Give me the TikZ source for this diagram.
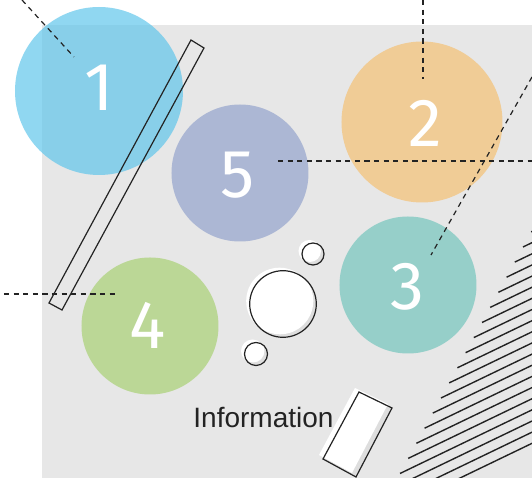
\documentclass[tikz,border=0pt]{standalone}
\usepackage{fontspec}
\usepackage{tikz}
\usetikzlibrary{calc}
\setmainfont{Liberation Sans}
\newfontfamily\digitfont{Fira Sans}
\definecolor{bggray}{RGB}{231,231,231}
\definecolor{shadegray}{RGB}{222,222,222}
\definecolor{ballblue}{RGB}{97,198,235}
\definecolor{ballorange}{RGB}{240,204,150}
\definecolor{ballslate}{RGB}{172,183,212}
\definecolor{ballteal}{RGB}{150,207,201}
\definecolor{ballgreen}{RGB}{187,215,150}
\definecolor{inkgray}{RGB}{35,35,35}
\tikzset{
  guide/.style={draw=inkgray, line width=0.6pt, dash pattern=on 2.6pt off 2.2pt},
  frame/.style={draw=inkgray, line width=0.6pt},
  hatch/.style={draw=inkgray, line width=0.7pt},
  num/.style={text=white, font=\digitfont\fontsize{34}{34}\selectfont, inner sep=0pt}
}

\begin{document}
\begin{tikzpicture}[x=0.5pt,y=-0.5pt]
\useasboundingbox (0,0) rectangle (532,480);
\fill[bggray] (42,25) rectangle (532,478);

\coordinate (O1) at (99,91);
\coordinate (O2) at (422,122);
\coordinate (O5) at (240,173);
\coordinate (O3) at (408,285);
\coordinate (O4) at (150,326);

\fill[ballorange] (O2) circle (80.5);
\fill[ballslate] (O5) circle (68.5);
\fill[ballteal] (O3) circle (68.5);
\fill[ballgreen] (O4) circle (68.5);
\fill[ballblue, fill opacity=0.7] (O1) circle (84);

\node[num] (n1) at (99,88) {1};
\node[num] (n2) at (425,123) {2};
\node[num] (n5) at (238,175) {5};
\node[num] (n3) at (407,287) {3};
\node[num] (n4) at (148,325) {4};

\coordinate (P) at (313,254);
\coordinate (Q) at (283,304);
\coordinate (S) at (256,354);
\foreach \pos/\rad in {P/11,Q/33.3,S/11.5}{
  \fill[white] ($(\pos)+(-3.5,-3)$) circle (\rad);
  \fill[shadegray] (\pos) circle (\rad);
  \begin{scope}
    \clip (\pos) circle (\rad);
    \fill[white] ($(\pos)+(-3,-3)$) circle (\rad);
  \end{scope}
  \draw[frame] (\pos) circle (\rad);
}

\coordinate (A) at (359,392);
\coordinate (B) at (392,408);
\coordinate (C) at (356,477);
\coordinate (D) at (323,459);
\fill[white] ($(A)+(-4,-4)$) -- ($(B)+(-4,-4)$) -- ($(C)+(-4,-4)$) -- ($(D)+(-4,-4)$) -- cycle;
\fill[shadegray] (A) -- (B) -- (C) -- (D) -- cycle;
\begin{scope}
  \clip (A) -- (B) -- (C) -- (D) -- cycle;
  \fill[white] ($(A)+(-4,-4)$) -- ($(B)+(-4,-4)$) -- ($(C)+(-4,-4)$) -- ($(D)+(-4,-4)$) -- cycle;
\end{scope}
\draw[frame] (A) -- (B) -- (C) -- (D) -- cycle;

\node[anchor=base west, inner sep=0pt, text=inkgray, font=\fontsize{14}{14}\selectfont] (info) at (193,428) {Information};

\coordinate (E) at (191,40);
\coordinate (F) at (204,48);
\coordinate (G) at (62,310);
\coordinate (H) at (49,303);
\draw[frame] (E) -- (F) -- (G) -- (H) -- cycle;

\begin{scope}
  \clip (42,25) rectangle (532,478);
  \foreach \i in {0,...,19}
    \draw[hatch] ($(531.2,231.9)+\i*(-8.2,15.1)$) -- ++(220,-106);
\end{scope}

\coordinate (d1a) at (22,0);
\coordinate (d1b) at (74,57);
\coordinate (d2a) at (423,0);
\coordinate (d2b) at (423,79);
\coordinate (d3a) at (278,161);
\coordinate (d3b) at (532,161);
\coordinate (d4a) at (532,77);
\coordinate (d4b) at (431,255);
\coordinate (d5a) at (4,294);
\coordinate (d5b) at (117,294);
\draw[guide] (d1a) -- (d1b);
\draw[guide] (d2a) -- (d2b);
\draw[guide] (d3a) -- (d3b);
\draw[guide] (d4a) -- (d4b);
\draw[guide] (d5a) -- (d5b);
\end{tikzpicture}
\end{document}
